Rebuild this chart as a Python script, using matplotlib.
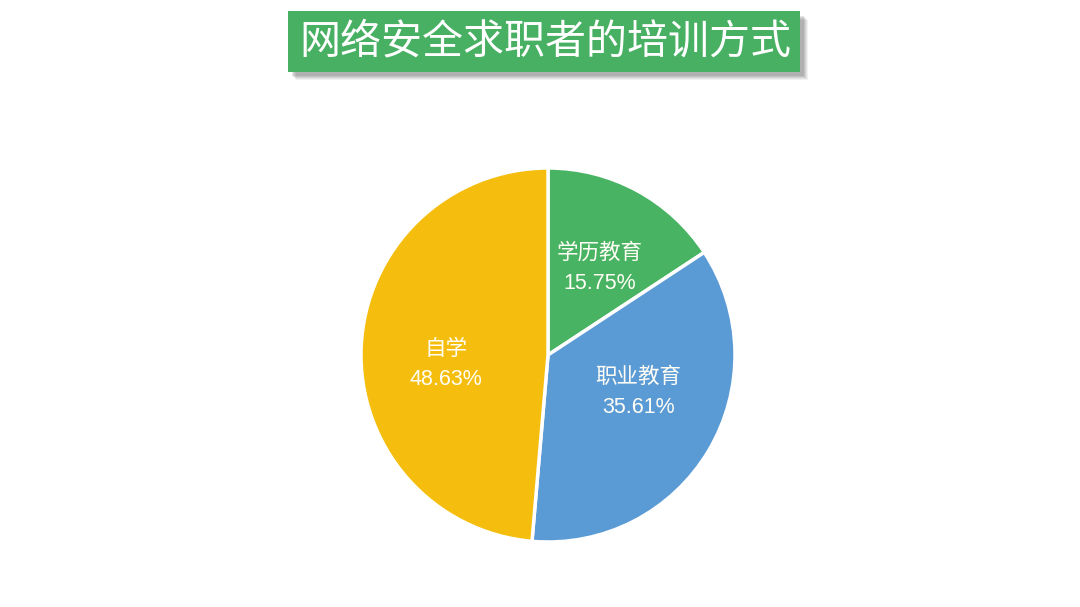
import matplotlib
matplotlib.use("Agg")
import numpy as np
import matplotlib.pyplot as plt
from matplotlib.patches import Rectangle

plt.rcParams['font.family'] = ['Noto Sans CJK SC', 'DejaVu Sans']

title = "网络安全求职者的培训方式"
categories = ["学历教育", "职业教育", "自学"]
shares = [15.75, 35.61, 48.63]
colors = ["#48B463", "#5B9BD5", "#F5BE0E"]

# small pixel nudges for the data labels (x right, y up)
label_nudge = [(3, -4), (2, 15), (1, -14)]

W, H = 1080, 607
fig = plt.figure(figsize=(W / 100, H / 100), dpi=100)
fig.patch.set_facecolor("white")


def px_rect(x0, y0, x1, y1, **kw):
    """Rectangle in figure fractions from pixel coords (top-left origin)."""
    return Rectangle((x0 / W, 1 - y1 / H), (x1 - x0) / W, (y1 - y0) / H,
                     transform=fig.transFigure, **kw)


# soft shadow behind the title box
for i, a in enumerate([0.08, 0.09, 0.11, 0.13, 0.15]):
    d = 5 - i
    fig.patches.append(px_rect(291 + d, 15 + d, 803 + d, 75 + d,
                               facecolor="#555555", edgecolor="none", alpha=a))
fig.patches.append(px_rect(288, 11, 800, 72, facecolor="#48B062", edgecolor="none"))
fig.text(545 / W, 1 - 42 / H, title, color="white", fontsize=29.5,
         ha="center", va="center")

# pie
cx, cy, r = 548, 355, 187
ax = fig.add_axes([(cx - r) / W, 1 - (cy + r) / H, 2 * r / W, 2 * r / H])
wedges, _ = ax.pie(shares, colors=colors, startangle=90, counterclock=False,
                   wedgeprops=dict(edgecolor="white", linewidth=2.5))
for w, name, val, (dx, dy) in zip(wedges, categories, shares, label_nudge):
    ang = np.deg2rad((w.theta1 + w.theta2) / 2)
    x = 0.55 * np.cos(ang) + dx / r
    y = 0.55 * np.sin(ang) + dy / r
    ax.text(x, y, f"{name}\n{val:.2f}%", color="#FFFDF5", fontsize=15.5,
            family=['Liberation Sans', 'Noto Sans CJK SC'],
            ha="center", va="center", linespacing=1.55)
ax.set_xlim(-1, 1)
ax.set_ylim(-1, 1)
ax.set_aspect("equal")
ax.axis("off")

fig.savefig("out.png", dpi=100)
